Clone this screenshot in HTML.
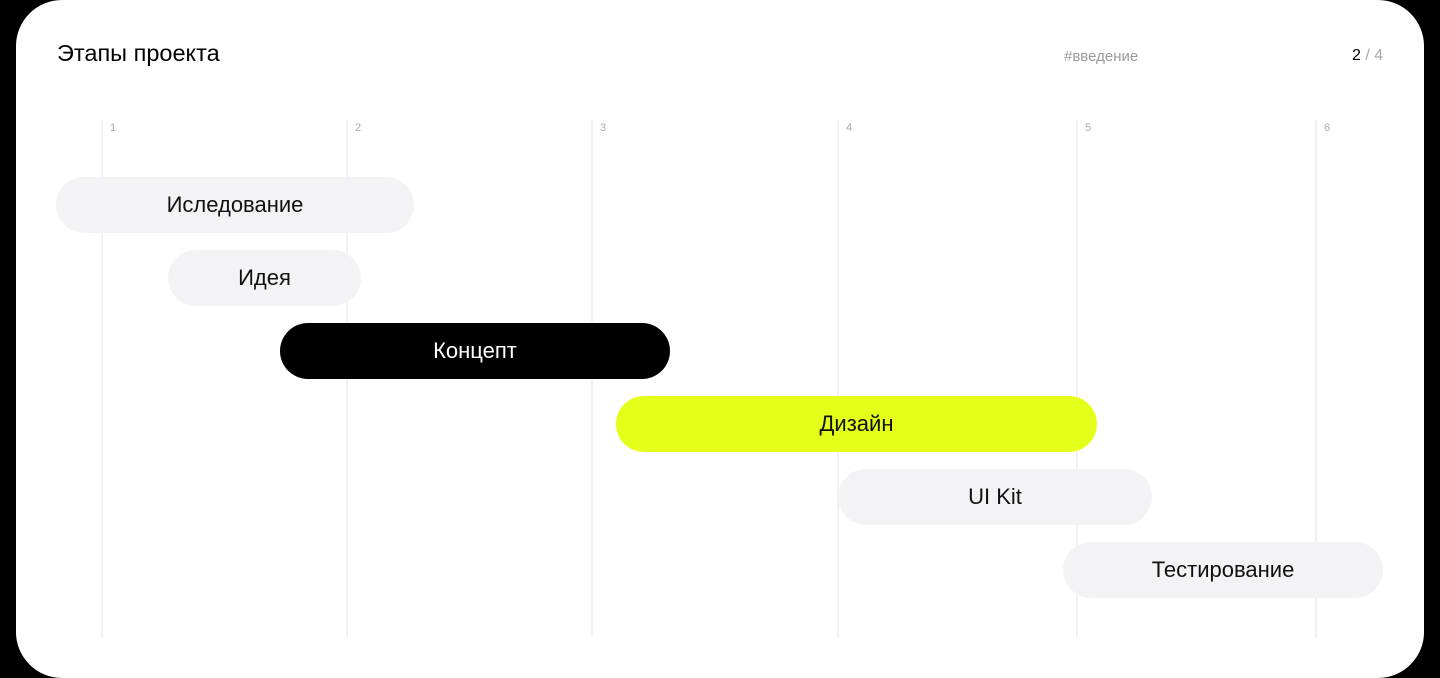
<!DOCTYPE html>
<html><head><meta charset="utf-8"><style>
html,body{margin:0;padding:0;background:#000;width:1440px;height:678px;overflow:hidden;font-family:"Liberation Sans","Noto Sans CJK SC",sans-serif}
.card{position:absolute;left:16px;top:0;width:1408px;height:678px;background:#fff;border-radius:46px}
.t{position:absolute;white-space:nowrap}
.l{position:absolute;top:120px;height:518px;width:2px;background:#f1f1f2}
.n{position:absolute;top:122px;font-size:11px;color:#aaa}
.b{position:absolute;height:56px;border-radius:28px;background:#f3f3f5;display:flex;align-items:center;justify-content:center;font-size:22px;color:#111}
</style></head><body>
<div class="card"></div>
<div class="t" style="left:57px;top:40px;font-size:23.5px;color:#000">Этапы проекта</div>
<div class="t" style="left:1064px;top:48px;font-size:15px;color:#999">#введение</div>
<div class="t" style="left:1352px;top:47px;font-size:16px;color:#000">2<span style="color:#aaa"> / 4</span></div>
<div class="l" style="left:101px"></div><div class="n" style="left:110px">1</div>
<div class="l" style="left:346px"></div><div class="n" style="left:355px">2</div>
<div class="l" style="left:591px"></div><div class="n" style="left:600px">3</div>
<div class="l" style="left:837px"></div><div class="n" style="left:846px">4</div>
<div class="l" style="left:1076px"></div><div class="n" style="left:1085px">5</div>
<div class="l" style="left:1315px"></div><div class="n" style="left:1324px">6</div>
<div class="b" style="left:56px;top:177px;width:358px">Иследование</div>
<div class="b" style="left:168px;top:250px;width:193px">Идея</div>
<div class="b" style="left:280px;top:323px;width:390px;background:#000;color:#fff">Концепт</div>
<div class="b" style="left:616px;top:396px;width:481px;background:#e3ff1a">Дизайн</div>
<div class="b" style="left:838px;top:469px;width:314px">UI Kit</div>
<div class="b" style="left:1063px;top:542px;width:320px">Тестирование</div>
</body></html>
